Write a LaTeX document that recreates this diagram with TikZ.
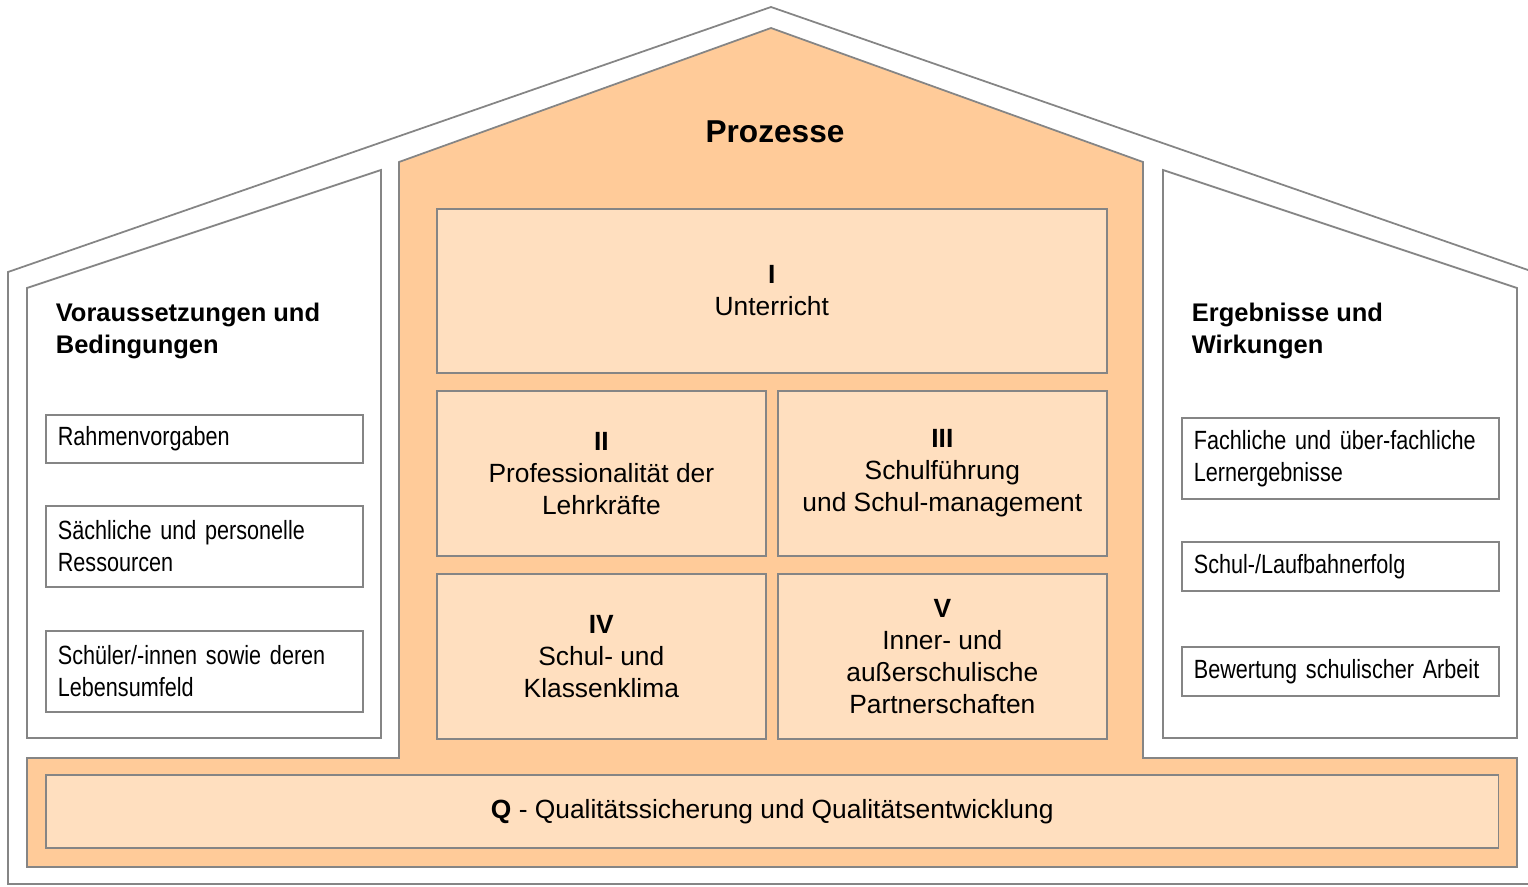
\documentclass[tikz,border=0pt]{standalone}
\usepackage{fontspec}
\setmainfont{Liberation Sans}
\newfontfamily\narrowfont[FakeStretch=0.82, WordSpace=0.65]{Liberation Sans}

\definecolor{roof}{HTML}{FFCB99}
\definecolor{tile}{HTML}{FFDFBF}
\definecolor{wall}{HTML}{858585}

\begin{document}
\begin{tikzpicture}[x=0.02cm, y=-0.02cm, line width=1pt,
        procbox/.style={draw=wall, fill=tile, anchor=north west, align=center, inner sep=0pt,
            minimum width=6.58cm, minimum height=3.3cm, font=\fontsize{15}{18.1}\selectfont},
        sidebox/.style={draw=wall, fill=white, anchor=north west, align=left, text width=5.86cm,
            inner xsep=0.24cm, inner ysep=0pt, font=\narrowfont\fontsize{15}{18.1}\selectfont},
        heading/.style={anchor=base west, align=left, inner sep=0pt,
            font=\bfseries\fontsize{14.5}{18.1}\selectfont}]
    \useasboundingbox (0, 0) rectangle (1528, 886);

    % outline of the house
    \draw[wall] (1528, 270) -- (771, 7) -- (8, 272) -- (8, 884) -- (1528, 884);

    % orange middle part with the base
    \draw[wall, fill=roof] (399, 162) -- (771, 28) -- (1143, 162) -- (1143, 758) -- (1517, 758)
        -- (1517, 867) -- (27, 867) -- (27, 758) -- (399, 758) -- cycle;

    % the two side wings
    \draw[wall] (27, 288) -- (381, 170) -- (381, 738) -- (27, 738) -- cycle;
    \draw[wall] (1163, 170) -- (1517, 288) -- (1517, 738) -- (1163, 738) -- cycle;

    \node[font=\bfseries\fontsize{18}{21}\selectfont] (prozesse) at (775, 132) {Prozesse};
    \node[heading] (voraus) at (55, 353) {Voraussetzungen und\\Bedingungen};
    \node[heading] (ergebnis) at (1191, 353) {Ergebnisse und\\Wirkungen};

    % the five areas of the processes
    \node[procbox, minimum width=13.4cm, minimum height=3.28cm] (unterricht) at (436, 208) {\textbf{I}\\Unterricht};
    \node[procbox] (lehrkraefte) at (436, 390) {\textbf{II}\\Professionalität der\\Lehrkräfte};
    \node[procbox] (fuehrung) at (777, 390) {\textbf{III}\\Schulführung\\und Schul-management};
    \node[procbox] (klima) at (436, 573) {\textbf{IV}\\Schul- und\\Klassenklima};
    \node[procbox] (partner) at (777, 573) {\textbf{V}\\Inner- und\\außerschulische\\Partnerschaften};

    \node[procbox, minimum width=29.06cm, minimum height=1.46cm] (qsicherung) at (45, 774)
        {\textbf{Q} - Qualitätssicherung und Qualitätsentwicklung};

    % left wing
    \node[sidebox, minimum height=0.96cm] (rahmen) at (45, 414) {Rahmenvorgaben};
    \node[sidebox, minimum height=1.62cm] (ressourcen) at (45, 505) {Sächliche und personelle\\Ressourcen};
    \node[sidebox, minimum height=1.62cm] (umfeld) at (45, 630) {Schüler/-innen sowie deren\\Lebensumfeld};

    % right wing
    \node[sidebox, minimum height=1.62cm] (lernerg) at (1181, 417) {Fachliche und über-fachliche\\Lernergebnisse};
    \node[sidebox, minimum height=0.98cm] (laufbahn) at (1181, 541) {Schul-/Laufbahnerfolg};
    \node[sidebox, minimum height=0.98cm] (bewertung) at (1181, 646) {Bewertung schulischer Arbeit};
\end{tikzpicture}
\end{document}
